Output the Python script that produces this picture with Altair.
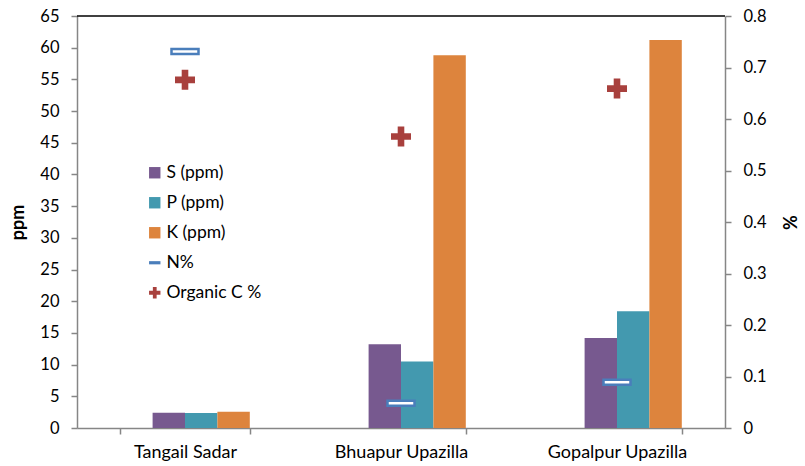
import altair as alt
import pandas as pd

categories = ["Tangail Sadar", "Bhuapur Upazilla", "Gopalpur Upazilla"]
s_ppm = [2.4, 13.2, 14.2]
p_ppm = [2.35, 10.5, 18.4]
k_ppm = [2.55, 58.8, 61.2]
n_pct = [0.731, 0.048, 0.089]
oc_pct = [0.676, 0.566, 0.659]

series_names = ["S (ppm)", "P (ppm)", "K (ppm)", "N%", "Organic C %"]
series_colors = ["#77598F", "#4399AF", "#DD843D", "#4A7EBB", "#A8403D"]
dash_path = "M-1,-0.28H1V0.28H-1Z"
cross_path = "M-0.33,-1H0.33V-0.33H1V0.33H0.33V1H-0.33V0.33H-1V-0.33H-0.33Z"
series_shapes = ["square", "square", "square", dash_path, cross_path]

bar_rows = []
for i, c in enumerate(categories):
    bar_rows.append({"cat": c, "series": "S (ppm)", "value": s_ppm[i]})
    bar_rows.append({"cat": c, "series": "P (ppm)", "value": p_ppm[i]})
    bar_rows.append({"cat": c, "series": "K (ppm)", "value": k_ppm[i]})
bars_df = pd.DataFrame(bar_rows)
n_df = pd.DataFrame({"cat": categories, "series": "N%", "value": n_pct})
oc_df = pd.DataFrame({"cat": categories, "series": "Organic C %", "value": oc_pct})

FONT = "Lato"
W, H = 648, 412
TICK_FS = 16.5

color_scale = alt.Scale(domain=series_names, range=series_colors)
shape_scale = alt.Scale(domain=series_names, range=series_shapes)

x_enc = alt.X(
    "cat:N",
    sort=categories,
    title=None,
    scale=alt.Scale(paddingInner=0.4, paddingOuter=0.2),
    axis=alt.Axis(
        tickBand="extent",
        labelAngle=0,
        labelFontSize=18,
        labelColor="#000000",
        labelPadding=9,
        domainColor="#868686",
        domainWidth=1.5,
        tickColor="#868686",
        tickWidth=1.5,
        tickSize=6,
    ),
)

legend = alt.Legend(
    title=None,
    orient="none",
    legendX=69,
    legendY=148,
    symbolSize=130,
    symbolStrokeWidth=0,
    labelFontSize=17.5,
    labelFont=FONT,
    labelColor="#000000",
    labelOffset=3,
    rowPadding=11,
    padding=0,
)

bars = alt.Chart(bars_df).mark_bar().encode(
    x=x_enc,
    xOffset=alt.XOffset(
        "series:N",
        scale=alt.Scale(domain=["_", "S (ppm)", "P (ppm)", "K (ppm)"], paddingInner=0, paddingOuter=0),
    ),
    y=alt.Y(
        "value:Q",
        title="ppm",
        scale=alt.Scale(domain=[0, 65], nice=False),
        axis=alt.Axis(
            values=list(range(0, 66, 5)),
            orient="left",
            grid=False,
            labelFontSize=TICK_FS,
            labelColor="#000000",
            labelPadding=12,
            titleFontSize=18,
            titleFontWeight="bold",
            titleColor="#000000",
            titleX=-50,
            domainColor="#868686",
            domainWidth=1.5,
            tickColor="#868686",
            tickWidth=1.5,
            tickSize=6,
        ),
    ),
    color=alt.Color("series:N", scale=color_scale, legend=legend),
)

pct_axis = alt.Axis(
    values=[0, 0.1, 0.2, 0.3, 0.4, 0.5, 0.6, 0.7, 0.8],
    format=".1~f",
    orient="right",
    grid=False,
    labelFontSize=TICK_FS,
    labelColor="#000000",
    labelPadding=12,
    titleFontSize=18,
    titleFontWeight="bold",
    titleColor="#000000",
    titleAngle=270,
    titleX=75,
    domainColor="#868686",
    domainWidth=1.5,
    tickColor="#868686",
    tickWidth=1.5,
    tickSize=6,
)
pct_scale = alt.Scale(domain=[0, 0.8], nice=False)

n_marks = alt.Chart(n_df).mark_tick(
    orient="horizontal", size=27, thickness=5, fill="white", stroke="#4A7EBB", strokeWidth=2.5, opacity=1
).encode(
    x=alt.X("cat:N", sort=categories),
    y=alt.Y("value:Q", title="%", scale=pct_scale, axis=pct_axis),
)

oc_marks = alt.Chart(oc_df).mark_point(filled=True, size=400, opacity=1, strokeWidth=0).encode(
    x=alt.X("cat:N", sort=categories),
    y=alt.Y("value:Q", title="%", scale=pct_scale, axis=pct_axis),
    color=alt.Color("series:N", scale=color_scale, legend=legend),
    shape=alt.Shape("series:N", scale=shape_scale, legend=legend),
)

top_line = alt.Chart(pd.DataFrame({"a": [0]})).mark_rule(color="#000000", strokeWidth=1.5).encode(
    x=alt.value(0), x2=alt.value(W), y=alt.value(0)
)

right = alt.layer(n_marks, oc_marks)
chart = (
    alt.layer(bars, right, top_line)
    .resolve_scale(y="independent")
    .properties(
        width=W,
        height=H,
        autosize=alt.AutoSizeParams(type="none"),
        padding={"left": 77, "top": 16, "right": 80, "bottom": 38},
    )
    .configure(font=FONT)
    .configure_view(stroke=None)
    .configure_axis(labelFont=FONT, titleFont=FONT)
)

chart.save("out.html", embed_options={"renderer": "svg", "actions": False})
